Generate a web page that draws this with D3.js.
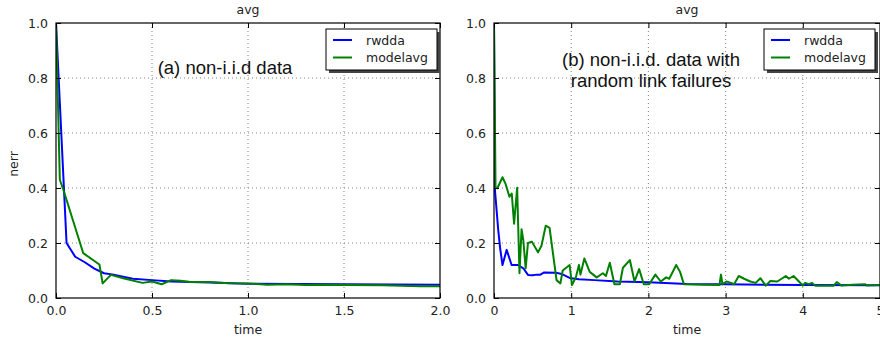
<!DOCTYPE html>
<html><head><meta charset="utf-8">
<script src="https://cdn.jsdelivr.net/npm/d3@7"></script>
<style>body{margin:0;background:#fff}svg{display:block}</style>
</head><body>
<svg id="chart" width="880" height="338"></svg>
<script>
// ---------- DATA ----------
const seriesNames = ["rwdda", "modelavg"];
const seriesColors = ["#0000ff", "#008000"];
const yTicks = [0.0, 0.2, 0.4, 0.6, 0.8, 1.0];
const xTicksA = [0.0, 0.5, 1.0, 1.5, 2.0];
const xTicksB = [0, 1, 2, 3, 4, 5];

// panel (a): non-i.i.d data
const rwddaA = [[0,1.0],[0.055,0.2],[0.1,0.15],[0.15,0.13],[0.2,0.107],[0.25,0.09],[0.3,0.085],[0.4,0.07],[0.5,0.065],[0.6,0.06],[0.8,0.056],[1.0,0.052],[1.5,0.05],[2.0,0.048]];
const modelavgA = [[0,1.0],[0.02,0.43],[0.04,0.39],[0.142,0.163],[0.226,0.122],[0.243,0.053],[0.286,0.084],[0.35,0.072],[0.45,0.055],[0.5,0.06],[0.55,0.05],[0.6,0.065],[0.65,0.063],[0.7,0.058],[0.8,0.058],[0.9,0.054],[1.0,0.053],[1.1,0.048],[1.2,0.05],[1.3,0.047],[1.4,0.048],[1.5,0.047],[1.7,0.046],[1.9,0.043],[2.0,0.043]];

// panel (b): non-i.i.d data with random link failures
const rwddaB = [[0,1.0],[0.01,0.4],[0.055,0.247],[0.08,0.18],[0.11,0.12],[0.164,0.175],[0.228,0.12],[0.31,0.12],[0.38,0.108],[0.44,0.084],[0.5,0.083],[0.55,0.085],[0.6,0.085],[0.65,0.093],[0.8,0.092],[0.88,0.087],[0.98,0.073],[1.1,0.068],[1.3,0.065],[1.6,0.06],[2.0,0.057],[2.5,0.051],[3.0,0.05],[4.0,0.047],[5.0,0.046]];
const modelavgB = [[0,1.0],[0.02,0.4],[0.043,0.399],[0.11,0.439],[0.15,0.415],[0.2,0.368],[0.23,0.38],[0.26,0.27],[0.30,0.401],[0.33,0.09],[0.357,0.25],[0.38,0.21],[0.41,0.108],[0.44,0.2],[0.49,0.205],[0.57,0.166],[0.615,0.19],[0.67,0.263],[0.72,0.255],[0.81,0.065],[0.86,0.053],[0.89,0.1],[0.98,0.12],[1.01,0.047],[1.06,0.075],[1.1,0.12],[1.12,0.085],[1.17,0.144],[1.24,0.095],[1.33,0.075],[1.41,0.09],[1.45,0.08],[1.5,0.128],[1.56,0.05],[1.63,0.05],[1.67,0.11],[1.76,0.138],[1.82,0.06],[1.88,0.105],[1.94,0.05],[2.01,0.05],[2.09,0.085],[2.16,0.06],[2.23,0.075],[2.27,0.07],[2.36,0.12],[2.41,0.095],[2.46,0.05],[2.7,0.048],[2.92,0.047],[2.94,0.085],[2.96,0.05],[3.01,0.06],[3.07,0.055],[3.11,0.05],[3.17,0.08],[3.24,0.07],[3.32,0.06],[3.39,0.055],[3.45,0.072],[3.52,0.045],[3.58,0.062],[3.67,0.06],[3.78,0.08],[3.82,0.07],[3.88,0.08],[3.95,0.06],[4.0,0.045],[4.03,0.055],[4.08,0.05],[4.12,0.055],[4.16,0.045],[4.4,0.045],[4.44,0.058],[4.5,0.045],[4.64,0.048],[4.81,0.05],[4.83,0.045],[5.0,0.047]];

const panels = [
  {x0:56, x1:440, xDomain:[0,2], xTicks:xTicksA, fmt:d3.format(".1f"), series:[rwddaA, modelavgA],
   note:["(a) non-i.i.d data"], noteX:225, noteY:[74], legendX:326, labelX:14, clipLabel:null},
  {x0:494, x1:880, xDomain:[0,5], xTicks:xTicksB, fmt:d3.format("d"), series:[rwddaB, modelavgB],
   note:["(b) non-i.i.d. data with","random link failures"], noteX:651, noteY:[65.5,86.5], legendX:764, labelX:452, clipLabel:449}
];

const svg = d3.select("#chart");
const yTop = 23, yBot = 298;
const y = d3.scaleLinear().domain([0,1]).range([yBot, yTop]);
const tickColor = "#222";
const fontFam = "'DejaVu Sans', sans-serif";
const fs = "12.5px";

svg.append("defs").append("clipPath").attr("id","labclip")
  .append("rect").attr("x",449).attr("y",0).attr("width",40).attr("height",338);

panels.forEach((p, pi) => {
  const x = d3.scaleLinear().domain(p.xDomain).range([p.x0, p.x1]);
  const g = svg.append("g");
  const clipId = "plotclip" + pi;
  svg.select("defs").append("clipPath").attr("id", clipId)
    .append("rect").attr("x", p.x0).attr("y", yTop).attr("width", p.x1 - p.x0).attr("height", yBot - yTop);

  // grid
  const grid = g.append("g").attr("stroke","#000").attr("stroke-width",0.8)
    .attr("stroke-dasharray","1,3").attr("opacity",0.6);
  p.xTicks.forEach(t => { if (t > p.xDomain[0] && t < p.xDomain[1])
    grid.append("line").attr("x1",x(t)).attr("x2",x(t)).attr("y1",yTop).attr("y2",yBot); });
  yTicks.forEach(t => { if (t > 0 && t < 1)
    grid.append("line").attr("x1",p.x0).attr("x2",p.x1).attr("y1",y(t)).attr("y2",y(t)); });

  // series
  const line = d3.line().x(d => x(d[0])).y(d => y(d[1]));
  const sg = g.append("g").attr("clip-path", `url(#${clipId})`);
  p.series.forEach((s, i) => {
    sg.append("path").datum(s).attr("d", line).attr("fill","none")
      .attr("stroke", seriesColors[i]).attr("stroke-width",2).attr("stroke-linejoin","round");
  });

  // axes (ticks inward, labels)
  const ax = d3.axisBottom(x).tickValues(p.xTicks).tickFormat(p.fmt).tickSizeInner(-5).tickSizeOuter(0).tickPadding(8);
  const axg = g.append("g").attr("transform",`translate(0,${yBot})`).call(ax);
  const axTop = d3.axisTop(x).tickValues(p.xTicks).tickFormat("").tickSizeInner(-5).tickSizeOuter(0);
  const axtg = g.append("g").attr("transform",`translate(0,${yTop})`).call(axTop);
  const ay = d3.axisLeft(y).tickValues(yTicks).tickFormat(d3.format(".1f")).tickSizeInner(-5).tickSizeOuter(0).tickPadding(8);
  const ayg = g.append("g").attr("transform",`translate(${p.x0},0)`).call(ay);
  const ayR = d3.axisRight(y).tickValues(yTicks).tickFormat("").tickSizeInner(-5).tickSizeOuter(0);
  const ayrg = g.append("g").attr("transform",`translate(${p.x1},0)`).call(ayR);
  [axg, axtg, ayg, ayrg].forEach(a => {
    a.select(".domain").remove();
    a.selectAll("line").attr("stroke","#000");
    a.selectAll("text").attr("fill",tickColor).style("font-family",fontFam).style("font-size",fs);
  });

  // frame
  g.append("rect").attr("x",p.x0).attr("y",yTop).attr("width",p.x1-p.x0).attr("height",yBot-yTop)
    .attr("fill","none").attr("stroke","#000").attr("stroke-width",1.2);

  // title & axis labels
  const cx = (p.x0 + p.x1) / 2;
  g.append("text").attr("x",cx).attr("y",14).attr("text-anchor","middle")
    .style("font-family",fontFam).style("font-size",fs).attr("fill",tickColor).text("avg");
  g.append("text").attr("x",cx).attr("y",334).attr("text-anchor","middle")
    .style("font-family",fontFam).style("font-size",fs).attr("fill",tickColor).text("time");
  const yl = g.append("text").attr("transform",`translate(${p.labelX+4},164) rotate(-90)`).attr("text-anchor","middle")
    .style("font-family",fontFam).style("font-size",fs).attr("fill",tickColor).text("nerr");
  if (p.clipLabel) yl.attr("clip-path","url(#labclip)");

  // annotation
  p.note.forEach((t, k) => {
    g.append("text").attr("x",p.noteX).attr("y",p.noteY[k]).attr("text-anchor","middle")
      .style("font-family","'Liberation Sans', Arial, sans-serif").style("font-size","18.5px").attr("fill","#111").text(t);
  });

  // legend
  const lx = p.legendX, ly = 29, lw = 111, lh = 41;
  const lg = g.append("g");
  lg.append("rect").attr("x",lx+3).attr("y",ly+3).attr("width",lw).attr("height",lh).attr("fill","#444");
  lg.append("rect").attr("x",lx).attr("y",ly).attr("width",lw).attr("height",lh).attr("fill","#fff")
    .attr("stroke","#000").attr("stroke-width",1);
  seriesNames.forEach((n, i) => {
    const yy = ly + 11 + i * 17.5;
    lg.append("line").attr("x1",lx+7).attr("x2",lx+26).attr("y1",yy).attr("y2",yy)
      .attr("stroke",seriesColors[i]).attr("stroke-width",2);
    lg.append("text").attr("x",lx+40).attr("y",yy+4.5).style("font-family",fontFam).style("font-size",fs)
      .attr("fill",tickColor).text(n);
  });
});
</script>
</body></html>
